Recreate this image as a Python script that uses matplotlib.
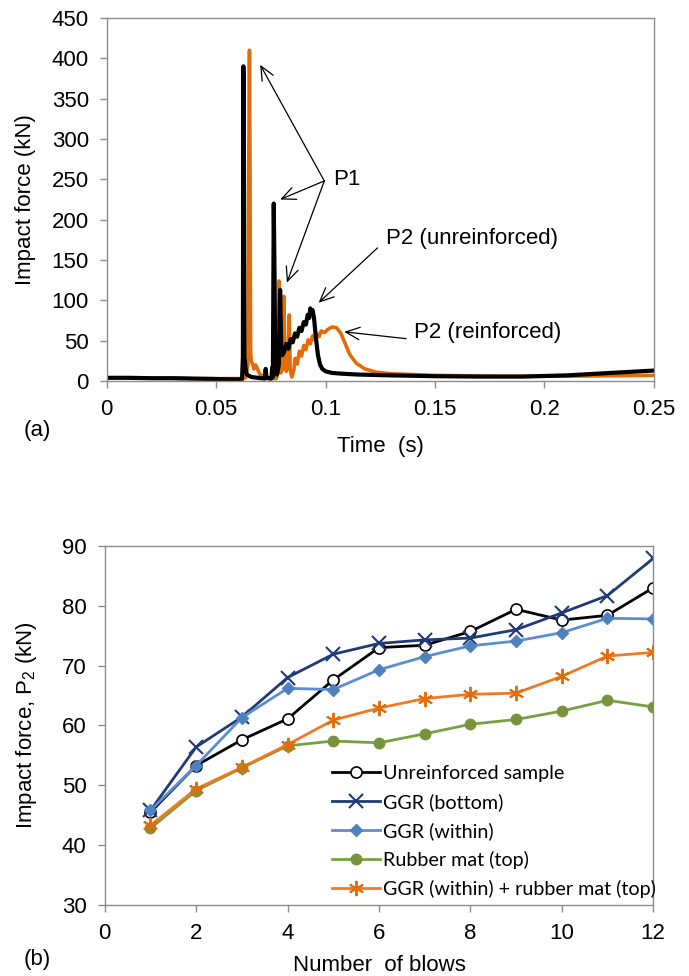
import numpy as np
import matplotlib
matplotlib.use('Agg')
import matplotlib.pyplot as plt

plt.rcParams['font.family'] = ['Liberation Sans', 'DejaVu Sans']
plt.rcParams['mathtext.default'] = 'regular'

# (a) force-time history, breakpoints of the recorded traces
t_unreinf = [0, 0.01, 0.02, 0.03, 0.04, 0.05, 0.06, 0.0618, 0.0622, 0.0624, 0.0626,
             0.0629, 0.0632, 0.0636, 0.064, 0.066, 0.069, 0.0722, 0.0726, 0.073,
             0.0745, 0.0752, 0.0756, 0.0759, 0.0763, 0.0767, 0.077, 0.0778,
             0.0786, 0.0792, 0.0797, 0.0802, 0.081, 0.082, 0.083, 0.084, 0.085,
             0.086, 0.087, 0.088, 0.089, 0.090, 0.091, 0.0918, 0.0925, 0.093,
             0.0935, 0.094, 0.0947, 0.0955, 0.0965, 0.0975, 0.0985, 0.1, 0.103,
             0.108, 0.115, 0.13, 0.15, 0.17, 0.19, 0.21, 0.23, 0.25]
f_unreinf = [4, 4, 3.5, 3.5, 3, 2.5, 2, 2, 30, 390, 350, 30, 22, 12, 8, 5, 4, 3,
             15, 4, 3, 3, 17, 5, 220, 120, 12, 8, 20, 113, 45, 32, 36, 46, 40,
             52, 48, 59, 55, 66, 62, 73, 70, 82, 78, 90, 85, 88, 78, 55, 32,
             20, 15, 12, 10, 9, 8, 7, 6, 5.5, 5.5, 7, 10, 13]

t_reinf = [0, 0.01, 0.02, 0.03, 0.04, 0.05, 0.06, 0.0635, 0.0645, 0.0649, 0.0652,
           0.0654, 0.0657, 0.066, 0.0665, 0.0672, 0.068, 0.07, 0.073, 0.0775,
           0.078, 0.0784, 0.0787, 0.079, 0.0795, 0.0803, 0.0809, 0.0814, 0.082,
           0.0827, 0.0834, 0.0838, 0.0845, 0.0855, 0.086, 0.087, 0.088, 0.089,
           0.090, 0.091, 0.092, 0.093, 0.094, 0.095, 0.096, 0.097, 0.098,
           0.0995, 0.101, 0.103, 0.105, 0.107, 0.109, 0.111, 0.114, 0.118,
           0.123, 0.13, 0.15, 0.18, 0.21, 0.25]
f_reinf = [4, 4, 3.5, 3.5, 3, 3, 3, 4, 20, 280, 410, 300, 40, 25, 22, 15, 20, 8,
           4, 3, 8, 60, 124, 30, 10, 15, 105, 30, 12, 20, 82, 15, 5, 14, 28,
           21, 37, 31, 44, 39, 51, 46, 56, 51, 59, 55, 62, 60, 64, 67, 66, 59,
           46, 33, 22, 15, 11, 9, 7, 6, 6, 7]

# (b) P2 versus number of blows
blows = list(range(1, 13))
p2_unreinf = [45.5, 53.3, 57.6, 61.1, 67.6, 73.0, 73.4, 75.7, 79.4, 77.6, 78.4, 83.0]
p2_ggr_bottom = [45.8, 56.4, 61.4, 68.0, 71.9, 73.7, 74.3, 74.6, 76.0, 78.8, 81.7, 87.9]
p2_ggr_within = [45.8, 53.3, 61.3, 66.2, 66.0, 69.3, 71.5, 73.3, 74.1, 75.5, 77.9, 77.8]
p2_rubber = [42.8, 49.1, 52.9, 56.6, 57.4, 57.1, 58.6, 60.2, 61.0, 62.4, 64.2, 63.1]
p2_ggr_rubber = [43.3, 49.4, 53.0, 56.8, 60.9, 62.9, 64.5, 65.2, 65.4, 68.2, 71.6, 72.2]

SPINE = '#8c8c8c'
FS = 16


def style_axes(ax):
    for s in ax.spines.values():
        s.set_color(SPINE)
        s.set_linewidth(1.0)
    ax.tick_params(direction='out', length=5, width=1.0, color=SPINE,
                   labelsize=FS, pad=8)


fig = plt.figure(figsize=(6.89, 9.76), dpi=100)

# ---- (a) ----
ax1 = fig.add_axes([0.155, 0.6096, 0.794, 0.372])
ax1.plot(t_reinf, f_reinf, color='#e36c0a', lw=2.6)
ax1.plot(t_unreinf, f_unreinf, color='black', lw=3.0)
ax1.set_xlim(0, 0.25)
ax1.set_ylim(0, 450)
ax1.set_xticks([0, 0.05, 0.1, 0.15, 0.2, 0.25])
ax1.set_xticklabels(['0', '0.05', '0.1', '0.15', '0.2', '0.25'])
ax1.set_yticks(np.arange(0, 451, 50))
style_axes(ax1)
ax1.set_xlabel('Time  (s)', fontsize=FS)
ax1.set_ylabel('Impact force (kN)', fontsize=FS)
ax1.xaxis.set_label_coords(0.5, -0.152)
ax1.yaxis.set_label_coords(-0.13, 0.5)

arrow = dict(arrowstyle='->,head_length=1.0,head_width=0.45', color='black', lw=0.9,
             shrinkA=0, shrinkB=0)
for tip in [(0.0701, 392), (0.0792, 225), (0.0823, 122)]:
    ax1.annotate('', xy=tip, xytext=(0.0994, 248), arrowprops=arrow)
ax1.text(0.1035, 250, 'P1', fontsize=FS, va='center', ha='left')
ax1.annotate('', xy=(0.0968, 97), xytext=(0.1237, 165), arrowprops=arrow)
ax1.text(0.1275, 177, 'P2 (unreinforced)', fontsize=FS, va='center', ha='left')
ax1.annotate('', xy=(0.1085, 61), xytext=(0.1368, 52.5), arrowprops=arrow)
ax1.text(0.1405, 60, 'P2 (reinforced)', fontsize=FS, va='center', ha='left')
fig.text(0.035, 0.559, '(a)', fontsize=FS, va='center', ha='left')

# ---- (b) ----
ax2 = fig.add_axes([0.152, 0.0727, 0.796, 0.368])
ax2.plot(blows, p2_unreinf, color='black', lw=2, marker='o', ms=8,
         mfc='white', mec='black', mew=1.2, label='Unreinforced sample')
ax2.plot(blows, p2_ggr_bottom, color='#1f3a78', lw=2, marker='x', ms=10,
         mew=1.5, label='GGR (bottom)')
ax2.plot(blows, p2_ggr_within, color='#5a8ed0', lw=2, marker='D', ms=6.5,
         mfc='#4f81bd', mec='#4f81bd', label='GGR (within)')
ax2.plot(blows, p2_rubber, color='#77a040', lw=2, marker='o', ms=7.5,
         mfc='#77933c', mec='#77933c', label='Rubber mat (top)')
ax2.plot(blows, p2_ggr_rubber, color='#f07a24', lw=2, marker=(6, 2, 0), ms=11,
         mew=1.4, mec='#e36c0a', label='GGR (within) + rubber mat (top)')
ax2.set_xlim(0, 12)
ax2.set_ylim(30, 90)
ax2.set_xticks(np.arange(0, 13, 2))
ax2.set_yticks(np.arange(30, 91, 10))
style_axes(ax2)
ax2.set_xlabel('Number  of blows', fontsize=FS)
ax2.set_ylabel('Impact force, P$_2$ (kN)', fontsize=FS)
ax2.xaxis.set_label_coords(0.5, -0.14)
ax2.yaxis.set_label_coords(-0.12, 0.5)
ax2.legend(loc='lower left', bbox_to_anchor=(0.39, -0.018), frameon=False,
           prop={'family': 'Lato', 'size': 14.2}, handlelength=2.4,
           handletextpad=0.15, labelspacing=0.55, borderpad=0.2)
fig.text(0.035, 0.0174, '(b)', fontsize=FS, va='center', ha='left')

fig.savefig('out.png', dpi=100, facecolor='white')
